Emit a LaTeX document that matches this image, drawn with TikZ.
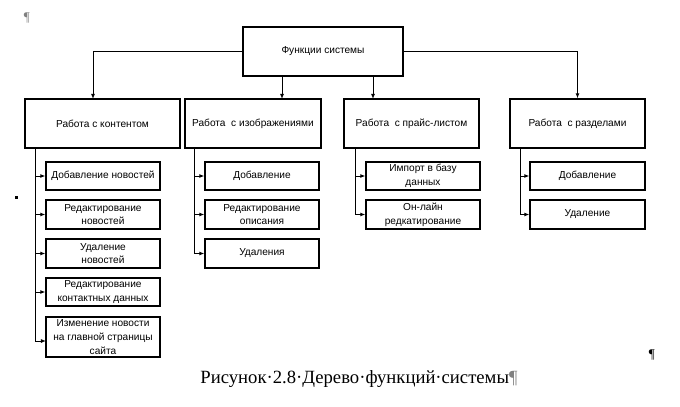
\documentclass[tikz,border=0pt]{standalone}
\usepackage{fontspec}
\setmainfont{Liberation Serif}
\setsansfont{Liberation Sans}
\usepackage{tikz}
\usetikzlibrary{arrows.meta}

\begin{document}
\begin{tikzpicture}[x=0.75pt,y=0.75pt,yscale=-1,xscale=1,
  fbox/.style={draw,line width=0.9pt,align=center,inner sep=0.75pt,
    font=\sffamily\fontsize{7.6}{10.3}\selectfont},
  arr/.style={line width=0.75pt,-{Latex[length=3.8pt,width=3pt]}}]
\useasboundingbox (0,0) rectangle (680,406);

%Shape: Rectangle [top]
\node[fbox,minimum width=120pt,minimum height=36.75pt] (func) at (323,51.5) {Функции системы};

%Shape: Rectangle [level 1]
\node[fbox,minimum width=116.25pt,minimum height=36.75pt] (cont) at (102.5,123.5) {Работа с контентом};
\node[fbox,minimum width=102pt,minimum height=36.75pt] (img) at (253,123.5) {Работа~ с изображениями};
\node[fbox,minimum width=101.25pt,minimum height=36.75pt] (price) at (411.5,123.5) {Работа~ с прайс-листом};
\node[fbox,minimum width=101.25pt,minimum height=36.75pt] (sect) at (577.5,123.5) {Работа~ с разделами};

%Shape: Rectangle [content]
\node[fbox,minimum width=85.5pt,minimum height=21pt] (contA) at (103,176) {Добавление новостей};
\node[fbox,minimum width=85.5pt,minimum height=21.75pt] (contB) at (103,214.5) {Редактирование\\новостей};
\node[fbox,minimum width=85.5pt,minimum height=21.75pt] (contC) at (103,253.5) {Удаление\\новостей};
\node[fbox,minimum width=85.5pt,minimum height=21pt] (contD) at (103,292) {Редактирование\\контактных данных};
\node[fbox,minimum width=85.5pt,minimum height=30pt] (contE) at (103,337) {Изменение новости\\на главной страницы\\сайта};

%Shape: Rectangle [images]
\node[fbox,minimum width=85.5pt,minimum height=21pt] (imgA) at (262,176) {Добавление};
\node[fbox,minimum width=85.5pt,minimum height=21.75pt] (imgB) at (262,214.5) {Редактирование\\описания};
\node[fbox,minimum width=85.5pt,minimum height=21.75pt] (imgC) at (262,253.5) {Удаления};

%Shape: Rectangle [price list]
\node[fbox,minimum width=85.5pt,minimum height=21pt] (priceA) at (423,176) {Импорт в базу\\данных};
\node[fbox,minimum width=85.5pt,minimum height=21.75pt] (priceB) at (423,214.5) {Он-лайн\\редкатирование};

%Shape: Rectangle [sections]
\node[fbox,minimum width=86.25pt,minimum height=21pt] (sectA) at (587.5,176) {Добавление};
\node[fbox,minimum width=86.25pt,minimum height=21.75pt] (sectB) at (587.5,214.5) {Удаление};

% entry points
\coordinate (inCont) at (93,99);
\coordinate (inImg) at (282,99);
\coordinate (inPrice) at (373,99);
\coordinate (trCont) at (35,148);
\coordinate (trImg) at (194,148);
\coordinate (trPrice) at (355,148);
\coordinate (trSect) at (520,148);
\coordinate (endE) at (46,341);

%Straight Lines [top]
\draw[arr] (func.west) -| (inCont);
\draw[arr] (func.east) -| (sect.north);
\draw[arr] (func.south -| inImg) -- (inImg);
\draw[arr] (func.south -| inPrice) -- (inPrice);

%Straight Lines [content]
\draw[arr] (trCont) |- (contA);
\draw[arr] (trCont) |- (contB);
\draw[arr] (trCont) |- (contC);
\draw[arr] (trCont) |- (contD);
\draw[arr] (trCont) |- (endE);

%Straight Lines [images]
\draw[arr] (trImg) |- (imgA);
\draw[arr] (trImg) |- (imgB);
\draw[arr] (trImg) |- (imgC);

%Straight Lines [price list]
\draw[arr] (trPrice) |- (priceA);
\draw[arr] (trPrice) |- (priceB);

%Straight Lines [sections]
\draw[arr] (trSect) |- (sectA);
\draw[arr] (trSect) |- (sectB);

% Text Node
\node[font=\fontsize{14}{16}\selectfont,inner sep=0.75pt] (caption) at (359,379) {Рисунок·2.8·Дерево·функций·системы\textcolor{gray}{¶}};
% Text Node
\node[font=\fontsize{10}{12}\selectfont,text=gray,inner sep=0pt] (parTop) at (27,18) {¶};
% Text Node
\node[font=\fontsize{10}{12}\selectfont,inner sep=0pt] (parRight) at (652,355) {¶};
%Shape: Square
\fill (14.5,195.5) rectangle (17.5,198.5);

\end{tikzpicture}
\end{document}
